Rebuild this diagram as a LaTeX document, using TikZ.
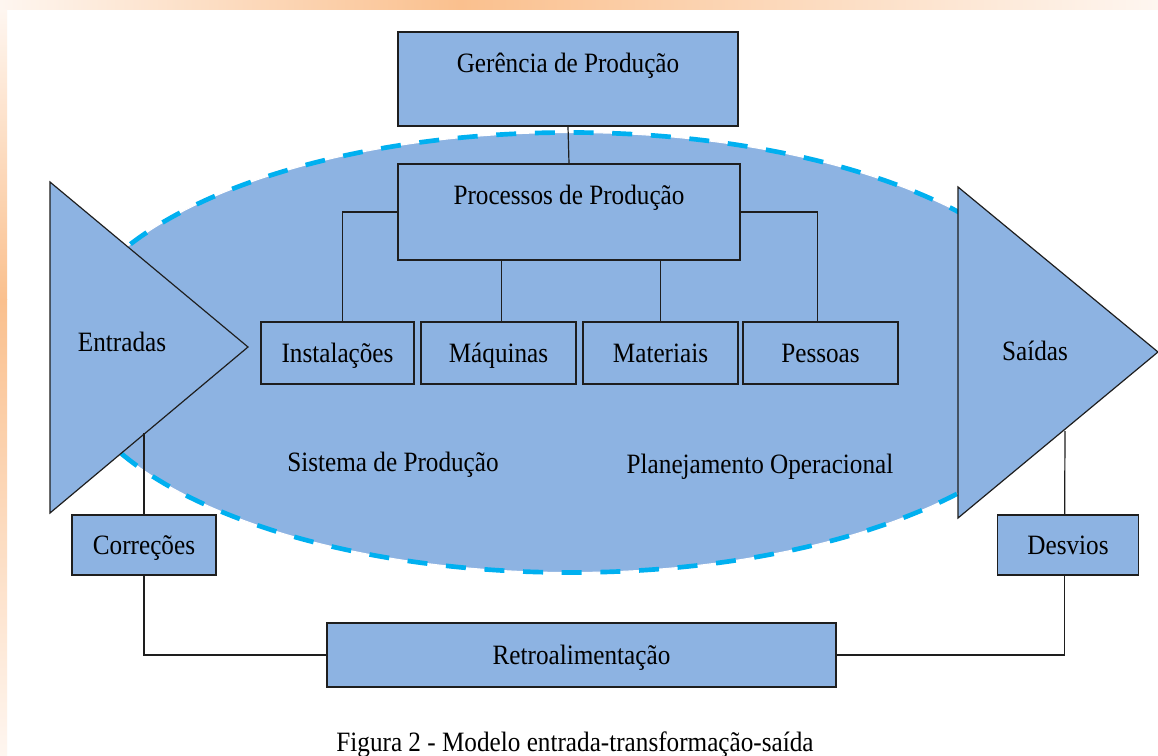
\documentclass[tikz,border=0pt]{standalone}
\usepackage{fontspec}
\setmainfont[FakeStretch=0.9]{Liberation Serif}
\newdimen\pxu \pxu=0.75pt
\definecolor{boxblue}{RGB}{141,179,226}
\definecolor{dashcyan}{RGB}{0,176,240}
\definecolor{edgegray}{RGB}{30,30,30}
\definecolor{orpale}{RGB}{254,246,240}
\definecolor{ordeep}{RGB}{250,192,142}
\tikzset{
  blk/.style={draw=edgegray, line width=0.9pt, fill=boxblue, inner sep=0pt},
  box/.style={blk, rectangle, minimum height=62\pxu,
    font=\fontsize{21}{25}\selectfont, text height=16pt, text depth=2pt},
  lbl/.style={inner sep=0pt, font=\fontsize{21}{25}\selectfont, text height=16pt, text depth=2pt},
  link/.style={draw=edgegray, line width=0.9pt},
}
\begin{document}
\begin{tikzpicture}[x=0.75pt, y=-0.75pt]
\useasboundingbox (0,0) rectangle (1158,756);
% background
\fill[white] (0,0) rectangle (1158,756);
\shade[left color=orpale, right color=ordeep] (0,0) rectangle (460,10);
\shade[left color=ordeep, right color=orpale] (460,0) rectangle (1158,10);
\shade[top color=orpale, bottom color=ordeep] (0,10) rectangle (7,300);
\shade[top color=ordeep, bottom color=orpale] (0,300) rectangle (7,756);
% production system ellipse
\fill[boxblue] (570,352.5) ellipse [x radius=505, y radius=220];
\draw[white, line width=0.8pt] (570,352.5) ellipse [x radius=505, y radius=220];
\draw[dashcyan, line width=3.5pt, dash pattern=on 15pt off 14pt] (570,352.5) ellipse [x radius=505, y radius=220];
% input / output triangles
\filldraw[blk] (50,182) -- (248,347) -- (50,513) -- cycle;
\filldraw[blk] (958,187) -- (1158,352) -- (958,518) -- cycle;
\node[lbl] (entradas) at (122,342) {Entradas};
\node[lbl] (saidas) at (1035,351) {Saídas};
\coordinate (entfoot) at (144,433);
\coordinate (saifoot) at (1065,431);
% top boxes
\node[blk, rectangle, minimum width=340\pxu, minimum height=94\pxu] (ger) at (568,79) {};
\node[lbl] (gertxt) at (568,63) {Gerência de Produção};
\node[blk, rectangle, minimum width=342\pxu, minimum height=96\pxu] (proc) at (569,212) {};
\node[lbl] (proctxt) at (569,195) {Processos de Produção};
% resource boxes
\node[box, minimum width=153\pxu] (inst) at (337.5,353) {Instalações};
\node[box, minimum width=155\pxu] (maq) at (498.5,353) {Máquinas};
\node[box, minimum width=155\pxu] (mat) at (660.5,353) {Materiais};
\node[box, minimum width=155\pxu] (pes) at (820.5,353) {Pessoas};
% connectors
\draw[link] (ger.south) -- (proc.north);
\draw[link] (proc.west) -| ([xshift=4pt]inst.north);
\draw[link] (proc.east) -| ([xshift=-2pt]pes.north);
\draw[link] ([xshift=2.5pt]maq.north |- proc.south) -- ([xshift=2.5pt]maq.north);
\draw[link] (mat.north |- proc.south) -- (mat.north);
% labels in the system
\node[lbl] (sist) at (393,462) {Sistema de Produção};
\node[lbl] (plan) at (760,464) {Planejamento Operacional};
% feedback loop
\node[box, minimum width=144\pxu, minimum height=60\pxu] (corr) at (144,545) {Correções};
\node[box, minimum width=141\pxu, minimum height=60\pxu] (desv) at (1068,545) {Desvios};
\node[box, minimum width=509\pxu, minimum height=64\pxu] (retro) at (581.5,655) {Retroalimentação};
\draw[link] (entfoot) -- (corr.north);
\draw[link] (corr.south) |- (retro.west);
\draw[link] (saifoot) -- ([xshift=-2.5pt]desv.north);
\draw[link] ([xshift=-2.5pt]desv.south) |- (retro.east);
% caption
\node[lbl] (caption) at (575,742) {Figura 2 - Modelo entrada-transformação-saída};
\end{tikzpicture}
\end{document}
